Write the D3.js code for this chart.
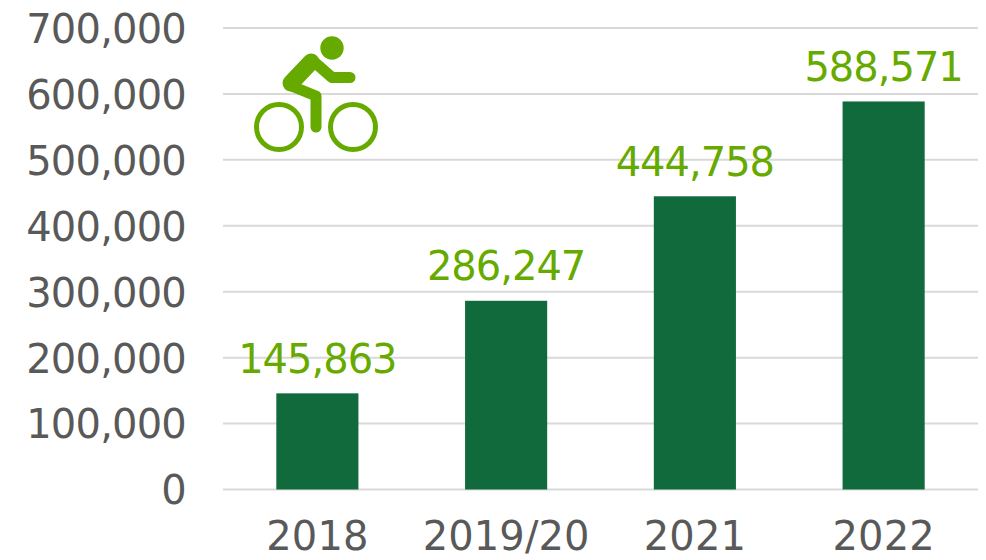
<!DOCTYPE html>
<html>
<head>
<meta charset="utf-8">
<script src="https://cdn.jsdelivr.net/npm/d3@7"></script>
<style>
  body { margin: 0; background: #fff; }
  text { font-family: "DejaVu Sans", sans-serif; }
</style>
</head>
<body>
<div id="chart"></div>
<script>
var categories = ["2018", "2019/20", "2021", "2022"];
var values = [145863, 286247, 444758, 588571];
var yTicks = [0, 100000, 200000, 300000, 400000, 500000, 600000, 700000];

var green = "#66aa00";
var grey = "#595959";
var labelFont = "'DejaVu Sans', sans-serif";

var svg = d3.select("#chart").append("svg").attr("width", 986).attr("height", 560);

var x = d3.scaleBand().domain(categories).range([223, 978]).paddingInner(0.565).paddingOuter(0.2825);
var y = d3.scaleLinear().domain([0, 700000]).range([489.5, 28]);

// gridlines
svg.append("g").selectAll("line").data(yTicks).enter().append("line")
  .attr("x1", 223).attr("x2", 978)
  .attr("y1", function (d) { return y(d); })
  .attr("y2", function (d) { return y(d); })
  .attr("stroke", "#d9d9d9").attr("stroke-width", 2);

// y axis labels
var yAxis = svg.append("g").attr("transform", "translate(186,0)")
  .call(d3.axisLeft(y).tickValues(yTicks).tickSize(0).tickPadding(0).tickFormat(d3.format(",")));
yAxis.select(".domain").remove();
yAxis.selectAll("text").attr("font-size", 40).attr("fill", grey)
  .attr("letter-spacing", -0.8).attr("dy", "0.36em").style("font-family", labelFont);

// x axis labels, kept just clear of the bottom edge
var xAxis = svg.append("g").attr("transform", "translate(0,522)")
  .call(d3.axisBottom(x).tickSize(0).tickPadding(0));
xAxis.select(".domain").remove();
xAxis.selectAll("text").attr("font-size", 40).attr("fill", grey)
  .attr("letter-spacing", 0.1).style("font-family", labelFont);

// bars
svg.selectAll("rect.bar").data(values).enter().append("rect")
  .attr("class", "bar")
  .attr("x", function (d, i) { return x(categories[i]); })
  .attr("width", x.bandwidth())
  .attr("y", function (d) { return y(d); })
  .attr("height", function (d) { return y(0) - y(d); })
  .attr("fill", "#106a3c");

// bar labels
svg.selectAll("text.val").data(values).enter().append("text")
  .attr("class", "val")
  .attr("x", function (d, i) { return x(categories[i]) + x.bandwidth() / 2; })
  .attr("y", function (d) { return y(d) - 20.5; })
  .attr("text-anchor", "middle")
  .attr("font-size", 40).attr("letter-spacing", -1).attr("fill", green)
  .text(d3.format(","));

// cyclist icon
var icon = svg.append("g").attr("fill", "none").attr("stroke", green)
  .attr("stroke-linecap", "round").attr("stroke-linejoin", "round");
icon.append("circle").attr("cx", 279).attr("cy", 127).attr("r", 22.5).attr("stroke-width", 5);
icon.append("circle").attr("cx", 353).attr("cy", 127).attr("r", 22.5).attr("stroke-width", 5);
icon.append("circle").attr("cx", 332).attr("cy", 48).attr("r", 11.7).attr("fill", green).attr("stroke", "none");
icon.append("path").attr("d", "M350 77.5 L332 77.5 L312 60").attr("stroke-width", 11);
icon.append("path").attr("d", "M311 62 L291 83").attr("stroke-width", 17);
icon.append("path").attr("d", "M289 85 L316 96 L316 127").attr("stroke-width", 11);
</script>
</body>
</html>
